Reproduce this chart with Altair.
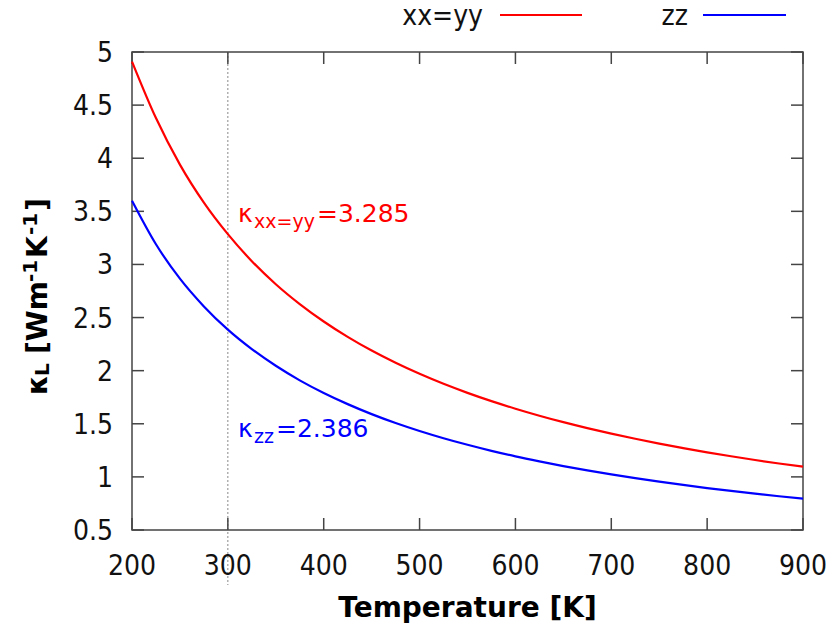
import altair as alt
import pandas as pd

# ---------------- data ----------------
temperature = [200, 225, 250, 275, 300, 325, 350, 375, 400, 425, 450, 475, 500,
               525, 550, 575, 600, 625, 650, 675, 700, 725, 750, 775, 800, 825,
               850, 875, 900]
kappa_xx_yy = [4.91, 4.378, 3.94, 3.582, 3.285, 3.031, 2.814, 2.627, 2.463,
               2.318, 2.189, 2.074, 1.970, 1.876, 1.791, 1.713, 1.642, 1.576,
               1.515, 1.459, 1.407, 1.359, 1.313, 1.271, 1.231, 1.194, 1.159,
               1.126, 1.096]
kappa_zz = [3.60, 3.19, 2.866, 2.605, 2.386, 2.203, 2.046, 1.909, 1.790, 1.685,
            1.591, 1.507, 1.432, 1.364, 1.302, 1.245, 1.193, 1.146, 1.102, 1.061,
            1.023, 0.988, 0.955, 0.924, 0.895, 0.868, 0.842, 0.818, 0.796]
series_names = ["xx=yy", "zz"]
series_colors = ["#ff0000", "#0000ff"]
x_ticks = [200, 300, 400, 500, 600, 700, 800, 900]
y_ticks = [0.5, 1, 1.5, 2, 2.5, 3, 3.5, 4, 4.5, 5]
ref_temperature = [300]
ref_values = [3.285, 2.386]
x_title = "Temperature [K]"

# ---------------- layout ----------------
W, H = 671, 478
BORDER = "#444444"
FONT = "DejaVu Sans"
CFONT = "DejaVu Sans Condensed, DejaVu Sans"
TICK = 12
TICKFS = 28
TXT = "#111111"

n = len(temperature)
df = pd.DataFrame({
    "T": temperature + temperature,
    "k": kappa_xx_yy + kappa_zz,
    "s": [series_names[0]] * n + [series_names[1]] * n,
})

xs = alt.Scale(domain=[200, 900], nice=False, zero=False)
ys = alt.Scale(domain=[0.5, 5], nice=False, zero=False)
cs = alt.Scale(domain=series_names, range=series_colors)

lines = alt.Chart(df).mark_line(strokeWidth=2.2, interpolate="monotone").encode(
    x=alt.X("T:Q", scale=xs, axis=None),
    y=alt.Y("k:Q", scale=ys, axis=None),
    color=alt.Color("s:N", scale=cs, legend=None),
)

xt = pd.DataFrame({"v": x_ticks})
yt = pd.DataFrame({"v": y_ticks})
tick_style = dict(color=BORDER, strokeWidth=1.5)
bottom_ticks = alt.Chart(xt).mark_rule(**tick_style).encode(
    x=alt.X("v:Q", scale=xs, axis=None), y=alt.value(H), y2=alt.value(H - TICK))
top_ticks = alt.Chart(xt).mark_rule(**tick_style).encode(
    x=alt.X("v:Q", scale=xs, axis=None), y=alt.value(0), y2=alt.value(TICK))
left_ticks = alt.Chart(yt).mark_rule(**tick_style).encode(
    y=alt.Y("v:Q", scale=ys, axis=None), x=alt.value(0), x2=alt.value(TICK))
right_ticks = alt.Chart(yt).mark_rule(**tick_style).encode(
    y=alt.Y("v:Q", scale=ys, axis=None), x=alt.value(W), x2=alt.value(W - TICK))

x_labels = alt.Chart(xt).mark_text(
    font=CFONT, fontSize=TICKFS, color=TXT, align="center",
    baseline="alphabetic").encode(
    x=alt.X("v:Q", scale=xs, axis=None), y=alt.value(523),
    text=alt.Text("v:Q", format="~g"))
y_labels = alt.Chart(yt).mark_text(
    font=CFONT, fontSize=TICKFS, color=TXT, align="right",
    baseline="alphabetic", dy=10).encode(
    y=alt.Y("v:Q", scale=ys, axis=None), x=alt.value(-19),
    text=alt.Text("v:Q", format="~g"))

ref_line = alt.Chart(pd.DataFrame({"T": ref_temperature})).mark_rule(
    color="#888888", strokeWidth=1, strokeDash=[2, 2]).encode(
    x=alt.X("T:Q", scale=xs, axis=None), y=alt.value(0), y2=alt.value(533))


def txt(text, x, y, size, color="#000000", weight="normal", align="left",
        angle=0, font=FONT):
    kw = dict(font=font, fontSize=size, color=color, fontWeight=weight,
              align=align, baseline="alphabetic")
    if angle:
        kw["angle"] = angle
    return alt.Chart(pd.DataFrame({"t": [text]})).mark_text(**kw).encode(
        x=alt.value(x), y=alt.value(y), text="t:N")


# x-axis title
xtitle = txt(x_title, W / 2, 565, 28, weight="bold", align="center")

# annotations
ann = [
    txt("κ", 106, 170, 25, series_colors[0]),
    txt(series_names[0], 122, 176, 19, series_colors[0]),
    txt(f"={ref_values[0]:.3f}", 185, 170, 25, series_colors[0]),
    txt("κ", 106, 385, 25, series_colors[1]),
    txt(series_names[1], 122, 391, 19, series_colors[1]),
    txt(f"={ref_values[1]:.3f}", 144, 385, 25, series_colors[1]),
]

# y-axis title pieces (rotated, reading bottom to top)
ytitle = [
    txt("κ", -85, 343, 28, weight="bold", angle=270),
    txt("L", -83, 324, 20, weight="bold", angle=270),
    txt("[Wm", -85, 302, 28, weight="bold", angle=270),
    txt("-1", -95, 230, 20, weight="bold", angle=270),
    txt("K", -85, 206, 28, weight="bold", angle=270),
    txt("-1", -95, 183, 20, weight="bold", angle=270),
    txt("]", -85, 159, 28, weight="bold", angle=270),
]

# legend
leg = [
    txt(series_names[0], 351, -27, TICKFS, color=TXT, align="right", font=CFONT),
    txt(series_names[1], 556, -27, TICKFS, color=TXT, align="right", font=CFONT),
    alt.Chart(pd.DataFrame({"s": [series_names[0]]})).mark_rule(strokeWidth=2.2).encode(
        x=alt.value(368), x2=alt.value(450), y=alt.value(-37),
        color=alt.Color("s:N", scale=cs, legend=None)),
    alt.Chart(pd.DataFrame({"s": [series_names[1]]})).mark_rule(strokeWidth=2.2).encode(
        x=alt.value(571), x2=alt.value(654), y=alt.value(-37),
        color=alt.Color("s:N", scale=cs, legend=None)),
]

chart = alt.layer(
    ref_line, bottom_ticks, top_ticks, left_ticks, right_ticks, lines,
    x_labels, y_labels, xtitle, *ann, *ytitle, *leg
).properties(
    width=W, height=H,
    background="white",
    autosize=alt.AutoSizeParams(type="none"),
    padding={"left": 132, "top": 52, "right": 34, "bottom": 106},
).configure_view(stroke=BORDER, strokeWidth=1.5)

chart.save("out.html", embed_options={"renderer": "svg", "actions": False})
